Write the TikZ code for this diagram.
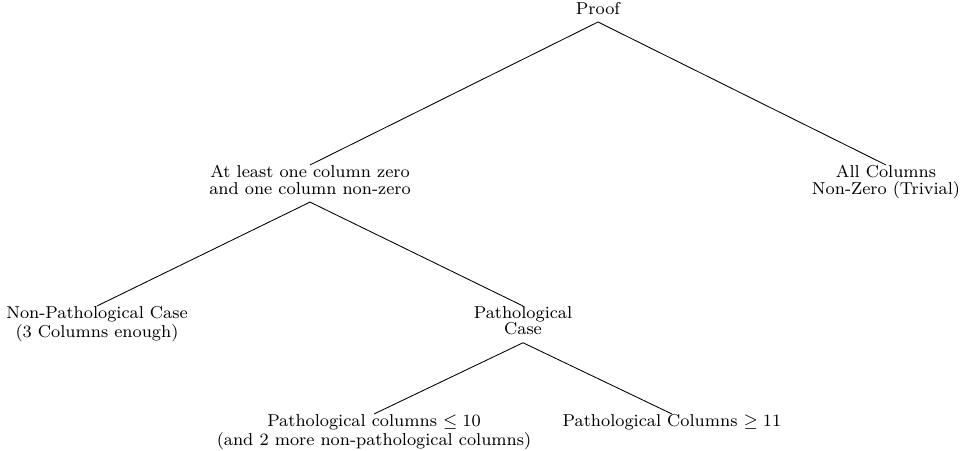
\documentclass[tikz,border=0pt]{standalone}
\usepackage{amssymb}
\usetikzlibrary{calc,positioning}

\begin{document}
\begin{tikzpicture}[txt/.style={align=center,font=\fontsize{8}{7.6}\selectfont,inner sep=0pt,text depth=3.5pt},x=0.464pt,y=-0.464pt]
  \useasboundingbox (0,0) rectangle (961,451);
  \node[txt,anchor=south] (r) at (598,22) {Proof};

  \node[txt,anchor=north] (a1) at (310,165) {At least one column zero\\and one column non-zero};
  \node[txt,anchor=north] (a2) at (886,165) {All Columns\\Non-Zero (Trivial)};

  \node[txt,anchor=north] (b1) at (97,306) {Non-Pathological Case\\(3 Columns enough)};
  \node[txt,anchor=north] (b2) at (523,306) {Pathological\\Case};

  \node[txt,anchor=north] (c1) at (374,414) {Pathological columns $\leq 10$\\(and 2 more non-pathological columns)};
  \node[txt,anchor=north] (c2) at (672,414) {Pathological Columns $\geq 11$};

  \draw (r.south) -- (a1.north);
  \draw (r.south) -- (a2.north);
  \draw (a1.south) -- (b1.north);
  \draw (a1.south) -- (b2.north);
  \draw (b2.south) -- (c1.north);
  \draw (b2.south) -- (c2.north);
 \end{tikzpicture}
\end{document}
